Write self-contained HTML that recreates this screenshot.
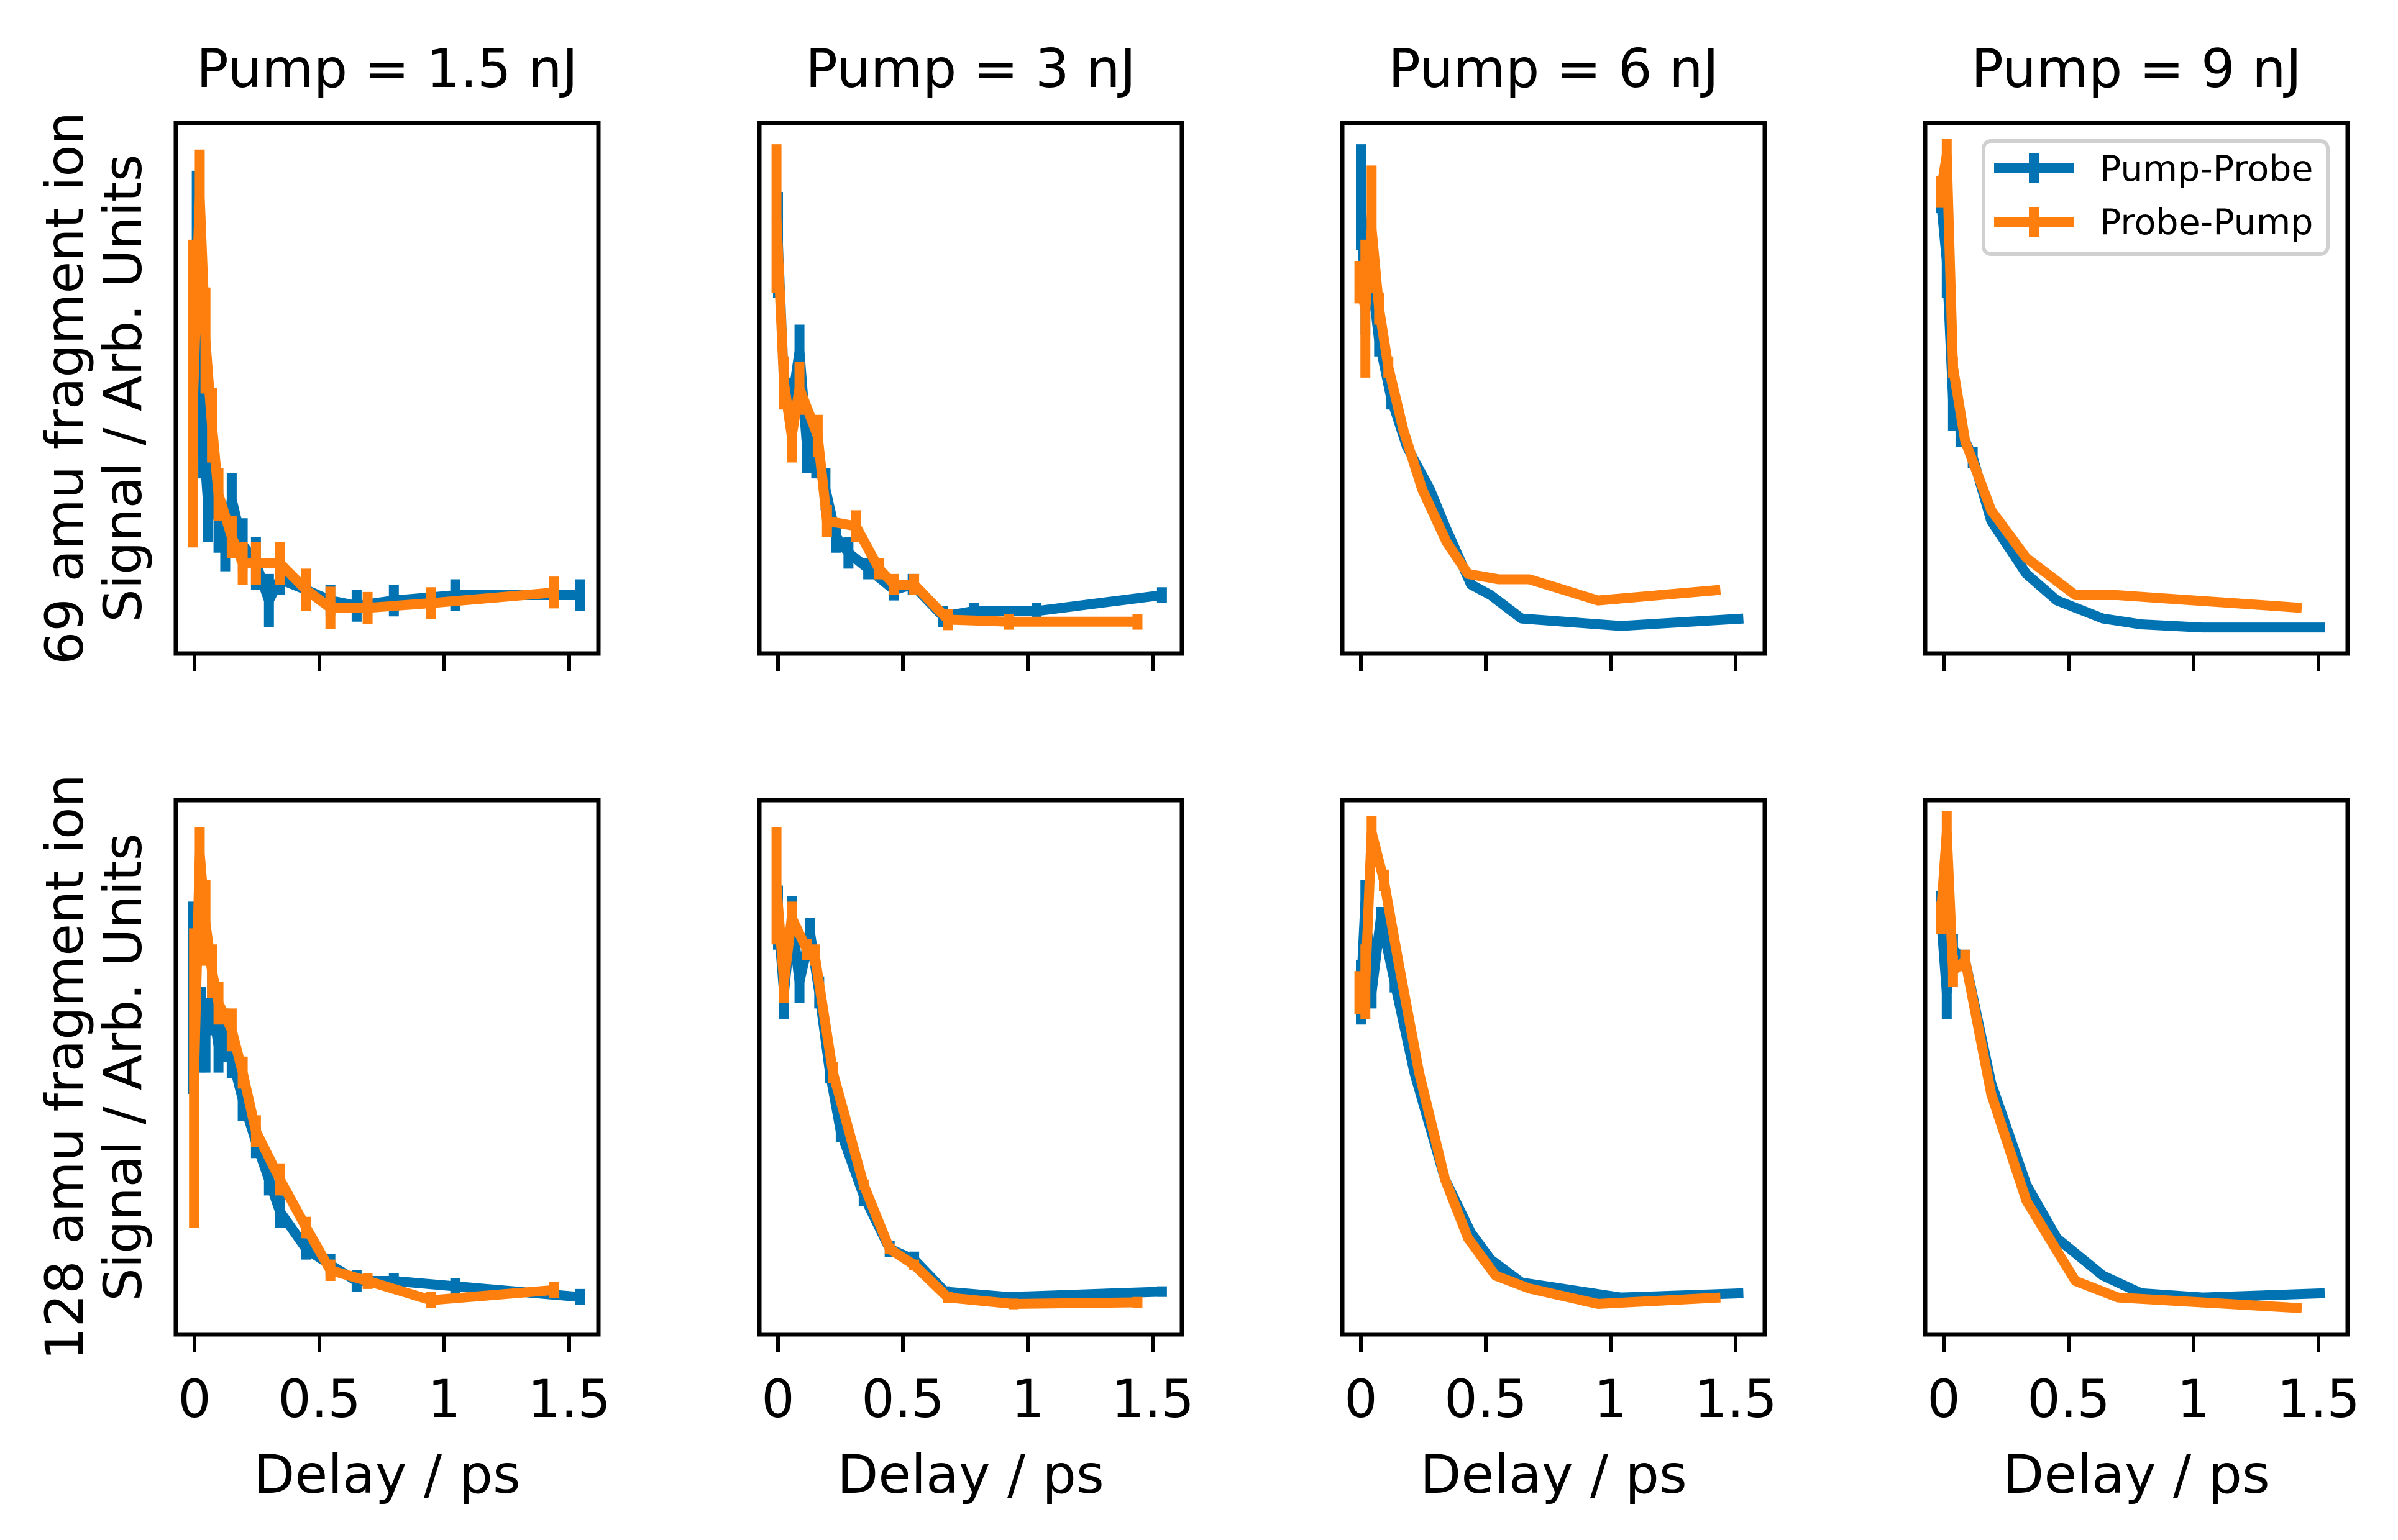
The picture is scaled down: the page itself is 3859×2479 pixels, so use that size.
<!DOCTYPE html>
<html><head><meta charset="utf-8"><style>
html,body{margin:0;padding:0;background:#fff;}
svg{display:block;font-family:"DejaVu Sans","Liberation Sans",sans-serif;}
</style></head><body>
<svg id="fig" width="3859" height="2479" viewBox="0 0 3859 2479" xmlns="http://www.w3.org/2000/svg"></svg>
<script>
const pumpTitles = ["Pump = 1.5 nJ","Pump = 3 nJ","Pump = 6 nJ","Pump = 9 nJ"];
const rowLabels = [["69 amu fragment ion","Signal / Arb. Units"],["128 amu fragment ion","Signal / Arb. Units"]];
const xTicks = [0,0.5,1,1.5];
const xTickLabels = ["0","0.5","1","1.5"];
const seriesNames = ["Pump-Probe","Probe-Pump"];

// Row 1 (69 amu)
const b1x=[0,0.009,0.035,0.053,0.07,0.096,0.123,0.149,0.193,0.246,0.298,0.342,0.447,0.544,0.649,0.798,1.044,1.544];
const b1y=[0.49,0.66,0.41,0.29,0.33,0.25,0.205,0.29,0.205,0.17,0.10,0.14,0.12,0.10,0.09,0.10,0.11,0.11];
const b1e=[0.12,0.25,0.08,0.08,0.06,0.06,0.05,0.05,0.05,0.05,0.05,0.03,0.03,0.03,0.03,0.03,0.03,0.03];
const o1x=[-0.005,0.021,0.044,0.070,0.096,0.149,0.193,0.246,0.342,0.447,0.544,0.693,0.947,1.439];
const o1y=[0.49,0.86,0.59,0.43,0.30,0.22,0.17,0.17,0.17,0.12,0.086,0.086,0.095,0.115];
const o1e=[0.29,0.09,0.1,0.07,0.05,0.04,0.04,0.04,0.04,0.04,0.04,0.03,0.03,0.03];

const b2x=[0,0.024,0.055,0.086,0.116,0.153,0.190,0.233,0.282,0.361,0.465,0.539,0.661,0.784,1.035,1.537];
const b2y=[0.77,0.51,0.47,0.57,0.39,0.37,0.31,0.22,0.19,0.16,0.12,0.13,0.07,0.08,0.08,0.11];
const b2e=[0.1,0.05,0.05,0.05,0.05,0.04,0.04,0.03,0.03,0.02,0.02,0.02,0.02,0.015,0.015,0.015];
const o2x=[-0.006,0.024,0.055,0.086,0.159,0.196,0.312,0.404,0.465,0.545,0.680,0.925,1.439];
const o2y=[0.82,0.51,0.41,0.50,0.41,0.25,0.24,0.16,0.13,0.13,0.064,0.06,0.06];
const o2e=[0.14,0.05,0.05,0.05,0.04,0.03,0.03,0.02,0.02,0.02,0.02,0.015,0.015];

const b3x=[0,0.018,0.043,0.073,0.122,0.184,0.276,0.337,0.441,0.52,0.643,1.041,1.531];
const b3y=[0.86,0.65,0.71,0.59,0.48,0.39,0.31,0.24,0.13,0.11,0.066,0.052,0.066];
const b3e=[0.1,0.05,0.04,0.03,0.02,0,0,0,0,0,0,0,0];
const o3x=[-0.006,0.018,0.043,0.073,0.110,0.171,0.245,0.343,0.429,0.551,0.674,0.949,1.439];
const o3y=[0.70,0.65,0.80,0.65,0.54,0.42,0.31,0.21,0.15,0.14,0.14,0.10,0.12];
const o3e=[0.04,0.13,0.12,0.03,0.02,0,0,0,0,0,0,0,0];

const b4x=[-0.012,0.012,0.037,0.067,0.116,0.190,0.331,0.453,0.637,0.790,1.035,1.525];
const b4y=[0.86,0.74,0.48,0.42,0.37,0.25,0.15,0.10,0.066,0.055,0.049,0.049];
const b4e=[0.03,0.07,0.06,0.03,0.02,0,0,0,0,0,0,0];
const o4x=[-0.012,0.012,0.037,0.086,0.190,0.331,0.527,0.698,1.433];
const o4y=[0.87,0.94,0.54,0.40,0.27,0.18,0.11,0.11,0.086];
const o4e=[0.03,0.03,0.02,0,0,0,0,0,0];

// Row 2 (128 amu)
const b5x=[-0.005,0.026,0.044,0.070,0.096,0.123,0.149,0.193,0.246,0.298,0.342,0.447,0.544,0.649,0.798,1.044,1.544];
const b5y=[0.63,0.57,0.56,0.62,0.54,0.56,0.52,0.44,0.36,0.29,0.23,0.16,0.13,0.10,0.10,0.09,0.07];
const b5e=[0.18,0.08,0.07,0.06,0.05,0.05,0.04,0.04,0.03,0.03,0.03,0.02,0.02,0.02,0.015,0.015,0.015];
const o5x=[-0.002,0.021,0.044,0.070,0.096,0.149,0.193,0.246,0.342,0.447,0.544,0.693,0.947,1.439];
const o5y=[0.48,0.90,0.77,0.68,0.62,0.57,0.49,0.38,0.29,0.20,0.12,0.10,0.064,0.083];
const o5e=[0.28,0.05,0.08,0.05,0.04,0.04,0.03,0.03,0.03,0.02,0.02,0.015,0.015,0.015];

const b6x=[0,0.024,0.055,0.086,0.129,0.165,0.208,0.251,0.343,0.447,0.545,0.668,0.925,1.537];
const b6y=[0.78,0.64,0.78,0.66,0.75,0.64,0.49,0.38,0.26,0.16,0.14,0.08,0.07,0.08];
const b6e=[0.06,0.05,0.04,0.04,0.03,0.03,0.02,0.02,0.02,0.015,0.015,0.01,0.01,0.01];
const o6x=[-0.006,0.024,0.055,0.116,0.147,0.220,0.343,0.447,0.545,0.680,0.943,1.439];
const o6y=[0.84,0.66,0.78,0.72,0.71,0.49,0.28,0.16,0.13,0.069,0.057,0.06];
const o6e=[0.11,0.04,0.03,0.02,0.02,0.02,0.01,0.01,0.01,0.01,0.01,0.01];

const b7x=[0,0.018,0.043,0.080,0.135,0.214,0.337,0.441,0.52,0.643,1.041,1.531];
const b7y=[0.64,0.81,0.64,0.78,0.66,0.49,0.29,0.19,0.14,0.097,0.069,0.077];
const b7e=[0.06,0.04,0.03,0.02,0.02,0,0,0,0,0,0,0];
const o7x=[-0.006,0.018,0.043,0.092,0.153,0.233,0.337,0.429,0.539,0.674,0.949,1.439];
const o7y=[0.64,0.66,0.94,0.85,0.69,0.49,0.29,0.18,0.11,0.086,0.057,0.069];
const o7e=[0.04,0.07,0.03,0.02,0,0,0,0,0,0,0,0];

const b8x=[-0.012,0.012,0.037,0.086,0.190,0.331,0.453,0.637,0.790,1.035,1.525];
const b8y=[0.79,0.64,0.72,0.70,0.47,0.28,0.18,0.11,0.077,0.069,0.077];
const b8e=[0.04,0.05,0.03,0.02,0,0,0,0,0,0,0];
const o8x=[-0.012,0.012,0.037,0.086,0.190,0.331,0.527,0.698,1.433];
const o8y=[0.78,0.94,0.68,0.70,0.45,0.25,0.10,0.069,0.049];
const o8e=[0.03,0.04,0.03,0.02,0,0,0,0,0];

const panelSeries=[
 [[b1x,b1y,b1e],[o1x,o1y,o1e]],[[b2x,b2y,b2e],[o2x,o2y,o2e]],[[b3x,b3y,b3e],[o3x,o3y,o3e]],[[b4x,b4y,b4e],[o4x,o4y,o4e]],
 [[b5x,b5y,b5e],[o5x,o5y,o5e]],[[b6x,b6y,b6e],[o6x,o6y,o6e]],[[b7x,b7y,b7e],[o7x,o7y,o7e]],[[b8x,b8y,b8e],[o8x,o8y,o8e]]
];

const NS="http://www.w3.org/2000/svg";
const svg=document.getElementById('fig');
const colors=["#0173b2","#ff7f0e"];
const colLeft=[283,1222,2160,3098], W=680;
const rowTop=[198,1288], rowBot=[1052,2148];
const PXPS=402;
function mk(tag,attrs,parent){const e=document.createElementNS(NS,tag);for(const k in attrs)e.setAttribute(k,attrs[k]);(parent||svg).appendChild(e);return e;}

for(let r=0;r<2;r++){
 for(let c=0;c<4;c++){
  const L=colLeft[c],T=rowTop[r],B=rowBot[r],H=B-T;
  const g=mk('g',{});
  
  
  const sx=v=>L+30+v*PXPS;
  const sy=v=>B-v*H;
  const ser=panelSeries[r*4+c];
  ser.forEach((s,si)=>{
   const [xs,ys,es]=s;
   const sg=mk('g',{},g);
   
   
   for(let i=0;i<xs.length;i++){
    if(es[i]>0){
     const eb=mk('line',{x1:sx(xs[i]),x2:sx(xs[i]),y1:sy(ys[i]-es[i]),y2:sy(ys[i]+es[i]),stroke:colors[si],'stroke-width':16},sg);
     
     
    }
   }
   const pts=xs.map((x,i)=>sx(x)+','+sy(ys[i])).join(' ');
   const pl=mk('polyline',{points:pts,fill:'none',stroke:colors[si],'stroke-width':16,'stroke-linejoin':'round'},sg);
   
   
  });
  const fr=mk('rect',{x:L,y:T,width:W,height:H,fill:'none',stroke:'#000','stroke-width':7},g);
  
  
  xTicks.forEach((t,i)=>{
   const tk=mk('line',{x1:sx(t),x2:sx(t),y1:B,y2:B+28,stroke:'#000','stroke-width':6},g);
   
   
   if(r===1){
    const tl=mk('text',{x:sx(t),y:B+133,'font-size':84,'text-anchor':'middle',fill:'#000'},g);
    tl.textContent=xTickLabels[i];
    
    
   }
  });
  if(r===0){
   const tt=mk('text',{x:L+W/2,y:140,'font-size':86,'text-anchor':'middle',fill:'#000'},g);
   tt.textContent=pumpTitles[c];
   
   
  } else {
   const xl=mk('text',{x:L+W/2,y:2403,'font-size':86,'text-anchor':'middle',fill:'#000'},g);
   xl.textContent="Delay / ps";
   
   
  }
  if(c===0){
   const cy=(T+B)/2;
   [133,227].forEach((xx,li)=>{
    const yl=mk('text',{x:xx,y:cy,'font-size':84,'text-anchor':'middle',fill:'#000',transform:'rotate(-90 '+xx+' '+cy+')'},g);
    yl.textContent=rowLabels[r][li];
    
    
   });
  }
 }
}
// legend
const lg=mk('g',{});


mk('rect',{x:3192,y:227,width:554,height:182,rx:12,fill:'#fff',stroke:'#d0d0d0','stroke-width':6},lg);
seriesNames.forEach((n,i)=>{
 const y=271+i*86;
 const e=mk('g',{},lg);
 
 
 mk('line',{x1:3209,x2:3337,y1:y,y2:y,stroke:colors[i],'stroke-width':16},e);
 mk('line',{x1:3273,x2:3273,y1:y-24,y2:y+24,stroke:colors[i],'stroke-width':16},e);
 const t=mk('text',{x:3379,y:y+20,'font-size':57,fill:'#000'},e);
 t.textContent=n;
});
</script>
</body></html>
